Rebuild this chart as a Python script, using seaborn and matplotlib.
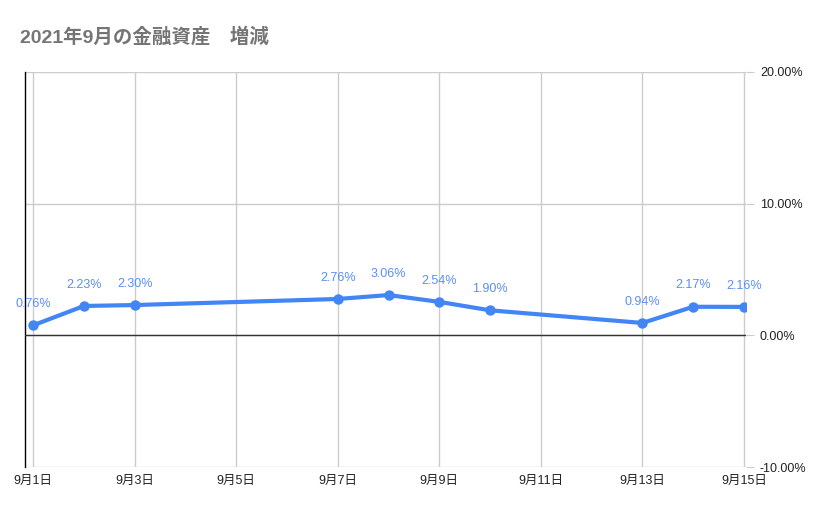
import matplotlib
matplotlib.use("Agg")
import matplotlib.pyplot as plt
import numpy as np
import pandas as pd
import seaborn as sns
from matplotlib.ticker import FuncFormatter

TITLE = "2021年9月の金融資産　増減"
DAYS = [1, 2, 3, 7, 8, 9, 10, 13, 14, 15]
CHANGE_PCT = [0.76, 2.23, 2.30, 2.76, 3.06, 2.54, 1.90, 0.94, 2.17, 2.16]
X_TICKS = [1, 3, 5, 7, 9, 11, 13, 15]
X_TICK_LABELS = [f"9月{d}日" for d in X_TICKS]
Y_TICKS = [-10, 0, 10, 20]

BLUE = "#4285F4"
LABEL_BLUE = "#5a8ef2"
GRID = "#cccccc"
FONTS = ["Liberation Sans", "Noto Sans CJK JP", "DejaVu Sans"]


def main() -> None:
    sns.set_style("white")
    plt.rcParams["font.family"] = FONTS

    df = pd.DataFrame({"day": DAYS, "pct": CHANGE_PCT})

    fig = plt.figure(figsize=(8.29, 5.14), dpi=100)
    ax = fig.add_axes([25 / 829, 1 - 467 / 514, (746 - 25) / 829, (467 - 72) / 514])

    sns.lineplot(data=df, x="day", y="pct", ax=ax, color=BLUE, linewidth=3,
                 marker="o", markersize=7.5, markeredgewidth=0, zorder=5)

    for d, v in zip(DAYS, CHANGE_PCT):
        ax.annotate(f"{v:.2f}%", (d, v), xytext=(0, 11), textcoords="offset points",
                    ha="center", va="bottom", color=LABEL_BLUE, fontsize=9)

    ax.set_xlim(1 - 0.16, 15.04)
    ax.set_ylim(-10, 20)
    ax.set_xticks(X_TICKS)
    ax.set_xticklabels(X_TICK_LABELS)
    ax.set_yticks(Y_TICKS)
    ax.yaxis.set_major_formatter(FuncFormatter(lambda v, _: f"{v:.2f}%"))
    ax.yaxis.tick_right()

    ax.grid(True, color=GRID, linewidth=1)
    ax.axhline(0, color="#333333", linewidth=1, zorder=3)
    ax.set_xlabel("")
    ax.set_ylabel("")

    for side in ["top", "right", "bottom"]:
        ax.spines[side].set_visible(False)
    ax.spines["left"].set_color("black")
    ax.spines["left"].set_linewidth(1)

    ax.tick_params(axis="y", which="major", length=6, color=GRID, pad=4,
                   labelsize=9, labelcolor="#222222")
    ax.tick_params(axis="x", which="major", length=0, pad=6,
                   labelsize=9, labelcolor="#222222")

    fig.text(20 / 829, 1 - 37 / 514, TITLE, fontsize=14, fontweight="bold",
             color="#757575", va="center", ha="left",
             family=["Liberation Sans", "Noto Sans CJK JP"])

    fig.savefig("out.png", dpi=100)
    plt.close(fig)


if __name__ == "__main__":
    main()
